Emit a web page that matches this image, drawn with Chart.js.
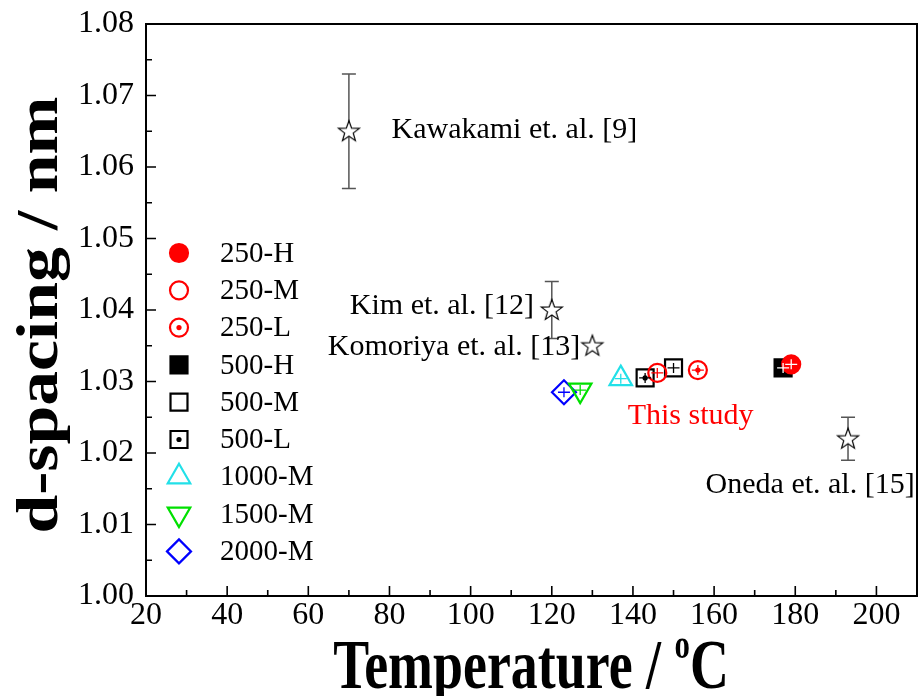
<!DOCTYPE html>
<html>
<head>
<meta charset="utf-8">
<script src="https://cdn.jsdelivr.net/npm/chart.js@4.4.0/dist/chart.umd.min.js"></script>
<style>
  html, body { margin: 0; padding: 0; background: #fff; overflow: hidden; }
  #wrap { width: 918px; height: 696px; position: relative; }
  canvas { display: block; }
</style>
</head>
<body>
<div id="wrap"><canvas id="myChart"></canvas></div>
<script>
// this study: sample name, temperature (°C), d-spacing (nm)
const seriesNames = ['250-H', '250-M', '250-L', '500-H', '500-M', '500-L', '1000-M', '1500-M', '2000-M'];
const seriesTemp = [179, 146, 156, 177, 150, 143, 137, 127, 123];
const seriesD = [1.0324, 1.0312, 1.0316, 1.0319, 1.0319, 1.0305, 1.0304, 1.0288, 1.0285];

// literature values with error
const refNames = ['Kawakami et. al. [9]', 'Kim et. al. [12]', 'Komoriya et. al. [13]', 'Oneda et. al. [15]'];
const refTemp = [70, 120, 130, 193];
const refD = [1.065, 1.040, 1.035, 1.022];
const refErr = [0.008, 0.004, 0, 0.003];

const xTicks = [20, 40, 60, 80, 100, 120, 140, 160, 180, 200];
const yTicks = [1.00, 1.01, 1.02, 1.03, 1.04, 1.05, 1.06, 1.07, 1.08];

const serif = "'Liberation Serif', 'Times New Roman', serif";

// marker look for each sample
const markers = [
  { color: '#ff0000', style: 'circle', fill: true, radius: 9 },
  { color: '#ff0000', style: 'circle', fill: false, radius: 9 },
  { color: '#ff0000', style: 'circle', fill: false, radius: 9, dot: true },
  { color: '#000000', style: 'rect', fill: true, radius: 12 },
  { color: '#000000', style: 'rect', fill: false, radius: 12 },
  { color: '#000000', style: 'rect', fill: false, radius: 12, dot: true },
  { color: '#22e0e8', style: 'triangle', fill: false, radius: 13 },
  { color: '#00e000', style: 'triangle', fill: false, radius: 13, rotation: 180 },
  { color: '#0000ff', style: 'rectRot', fill: false, radius: 12 }
];

// open five point star used for the literature points
function makeStar() {
  const c = document.createElement('canvas');
  c.width = 26; c.height = 26;
  const g = c.getContext('2d');
  g.beginPath();
  for (let i = 0; i < 10; i++) {
    const r = i % 2 === 0 ? 11 : 4.5;
    const a = -Math.PI / 2 + i * Math.PI / 5;
    const px = 13 + r * Math.cos(a), py = 13.5 + r * Math.sin(a);
    if (i === 0) g.moveTo(px, py); else g.lineTo(px, py);
  }
  g.closePath();
  g.fillStyle = '#fff';
  g.fill();
  g.strokeStyle = '#000';
  g.lineWidth = 1.2;
  g.stroke();
  return c;
}
const starImg = makeStar();

const datasets = seriesNames.map((name, i) => {
  const m = markers[i];
  return {
    label: name,
    data: [{ x: seriesTemp[i], y: seriesD[i] }],
    pointStyle: m.style,
    pointRadius: m.radius,
    pointRotation: m.rotation || 0,
    borderColor: m.color,
    backgroundColor: m.fill ? m.color : 'rgba(255,255,255,0)',
    pointBorderWidth: 2.2,
    showLine: false
  };
});
datasets.push({
  label: 'literature',
  data: refTemp.map((t, i) => ({ x: t, y: refD[i] })),
  pointStyle: starImg,
  pointRadius: 10,
  showLine: false
});

// text placed in data coordinates
const notes = [
  { text: refNames[0], x: 80.5, y: 1.0652, align: 'left', color: '#000' },
  { text: refNames[1], x: 115.6, y: 1.0405, align: 'right', color: '#000' },
  { text: refNames[2], x: 64.8, y: 1.0348, align: 'left', color: '#000' },
  { text: 'This study', x: 138.7, y: 1.0252, align: 'left', color: '#ff0000' },
  { text: refNames[3], x: 157.9, y: 1.0155, align: 'left', color: '#000' }
];

function pt(ctx, m, x, y) {
  ctx.save();
  ctx.fillStyle = m.fill ? m.color : '#fff';
  ctx.strokeStyle = m.color;
  ctx.lineWidth = 2.2;
  Chart.helpers.drawPoint(ctx, { pointStyle: m.style, radius: m.radius, rotation: m.rotation || 0, borderWidth: 2.2 }, x, y);
  if (m.dot) {
    ctx.beginPath();
    ctx.arc(x, y, 2.6, 0, Math.PI * 2);
    ctx.fillStyle = m.color;
    ctx.fill();
  }
  ctx.restore();
}

const errorBars = {
  id: 'errorBars',
  beforeDatasetsDraw(chart) {
    const { ctx, scales: { x, y } } = chart;
    ctx.save();
    ctx.strokeStyle = '#555';
    ctx.lineWidth = 1.5;
    refTemp.forEach((t, i) => {
      if (!refErr[i]) return;
      const px = x.getPixelForValue(t);
      const top = y.getPixelForValue(refD[i] + refErr[i]);
      const bot = y.getPixelForValue(refD[i] - refErr[i]);
      ctx.beginPath();
      ctx.moveTo(px, top); ctx.lineTo(px, bot);
      ctx.moveTo(px - 7, top); ctx.lineTo(px + 7, top);
      ctx.moveTo(px - 7, bot); ctx.lineTo(px + 7, bot);
      ctx.stroke();
    });
    ctx.restore();
  },
  afterDatasetsDraw(chart) {
    const { ctx, scales: { x, y } } = chart;
    ctx.save();
    seriesNames.forEach((n, i) => {
      const m = markers[i];
      const px = x.getPixelForValue(seriesTemp[i]);
      const py = y.getPixelForValue(seriesD[i]);
      // small error cross inside the marker
      ctx.strokeStyle = m.fill ? '#fff' : m.color;
      ctx.lineWidth = 1.3;
      ctx.beginPath();
      ctx.moveTo(px - 6, py); ctx.lineTo(px + 6, py);
      ctx.moveTo(px, py - 5); ctx.lineTo(px, py + 5);
      ctx.stroke();
      if (m.dot) {
        ctx.fillStyle = m.color;
        ctx.beginPath();
        ctx.arc(px, py, 2.6, 0, Math.PI * 2);
        ctx.fill();
      }
    });
    ctx.restore();
  }
};

const frameAndText = {
  id: 'frameAndText',
  afterDraw(chart) {
    const { ctx, chartArea: a, scales: { x, y } } = chart;
    ctx.save();
    // frame
    ctx.strokeStyle = '#000';
    ctx.lineWidth = 2;
    ctx.strokeRect(a.left, a.top, a.right - a.left, a.bottom - a.top);
    // inward ticks
    ctx.lineWidth = 1.6;
    ctx.beginPath();
    xTicks.forEach(v => {
      const px = x.getPixelForValue(v);
      ctx.moveTo(px, a.bottom); ctx.lineTo(px, a.bottom - 10);
      const mx = x.getPixelForValue(v + 10);
      if (v + 10 < x.max) { ctx.moveTo(mx, a.bottom); ctx.lineTo(mx, a.bottom - 6); }
    });
    yTicks.forEach(v => {
      const py = y.getPixelForValue(v);
      ctx.moveTo(a.left, py); ctx.lineTo(a.left + 10, py);
      if (v + 0.005 < y.max) {
        const my = y.getPixelForValue(v + 0.005);
        ctx.moveTo(a.left, my); ctx.lineTo(a.left + 6, my);
      }
    });
    ctx.stroke();

    // notes
    ctx.font = '30px ' + serif;
    ctx.textBaseline = 'middle';
    notes.forEach(n => {
      ctx.fillStyle = n.color;
      ctx.textAlign = n.align;
      ctx.fillText(n.text, x.getPixelForValue(n.x), y.getPixelForValue(n.y));
    });

    // legend
    ctx.textAlign = 'left';
    ctx.font = '29px ' + serif;
    seriesNames.forEach((n, i) => {
      const ly = 253 + i * 37.3;
      pt(ctx, markers[i], 179, ly);
      ctx.fillStyle = '#000';
      ctx.fillText(n, 220, ly + 1);
    });

    // x axis title with superscript degree
    ctx.fillStyle = '#000';
    ctx.textBaseline = 'alphabetic';
    const big = 'bold 70px ' + serif, small = 'bold 40px ' + serif;
    const sx = 0.77;
    ctx.font = big;
    const w1 = ctx.measureText('Temperature / ').width;
    const w3 = ctx.measureText('C').width;
    ctx.font = small;
    const w2 = ctx.measureText('o').width;
    const total = (w1 + w2 + w3) * sx;
    ctx.save();
    ctx.translate(531 - total / 2, 688);
    ctx.scale(sx, 1);
    ctx.font = big;
    ctx.fillText('Temperature / ', 0, 0);
    ctx.font = small;
    ctx.fillText('o', w1, -30);
    ctx.font = big;
    ctx.fillText('C', w1 + w2, 0);
    ctx.restore();

    // y axis title
    ctx.save();
    ctx.translate(57, 315);
    ctx.rotate(-Math.PI / 2);
    ctx.scale(1.16, 1);
    ctx.font = 'bold 60px ' + serif;
    ctx.textAlign = 'center';
    ctx.fillText('d-spacing / nm', 0, 0);
    ctx.restore();

    ctx.restore();
  }
};

const ctx = document.getElementById('myChart').getContext('2d');
const myChart = new Chart(ctx, {
  type: 'scatter',
  data: { datasets: datasets },
  options: {
    responsive: true,
    maintainAspectRatio: false,
    animation: false,
    layout: { autoPadding: false, padding: { top: 24, right: 1, left: 0, bottom: 0 } },
    plugins: { legend: { display: false }, tooltip: { enabled: false } },
    scales: {
      x: {
        type: 'linear',
        min: 20,
        max: 210,
        afterBuildTicks: s => { s.ticks = xTicks.map(v => ({ value: v })); },
        afterFit: s => { s.height = 100; s.paddingLeft = 0; s.paddingRight = 0; },
        grid: { display: false, drawTicks: false },
        border: { display: false },
        ticks: { color: '#000', padding: 0, maxRotation: 0, font: { family: serif, size: 32 } }
      },
      y: {
        type: 'linear',
        min: 1.00,
        max: 1.08,
        afterBuildTicks: s => { s.ticks = yTicks.map(v => ({ value: v })); },
        afterFit: s => { s.width = 146; s.paddingTop = 0; s.paddingBottom = 0; },
        grid: { display: false, drawTicks: false },
        border: { display: false },
        ticks: { color: '#000', padding: 12, font: { family: serif, size: 32 }, callback: v => v.toFixed(2) }
      }
    }
  },
  plugins: [errorBars, frameAndText]
});
</script>
</body>
</html>
